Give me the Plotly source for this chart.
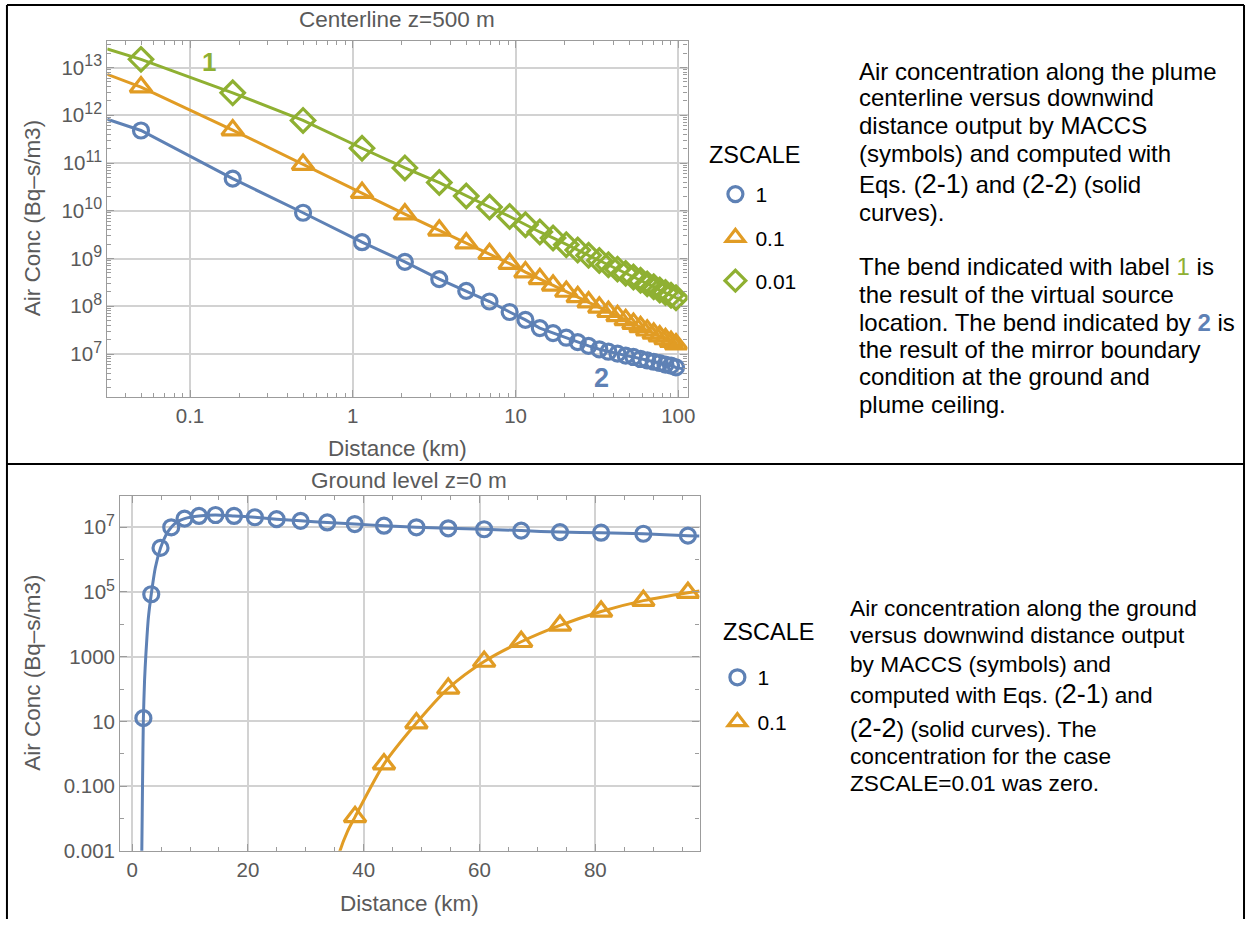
import plotly.graph_objects as go

W, H = 1254, 930
BLUE = "#5E81B5"
ORANGE = "#E19C24"
GREEN = "#8FB032"
FRAME = "#9c9c9c"
GRID = "#d2d2d2"
TICKTXT = "#5a5a5a"
FONT = "Liberation Sans, Arial, sans-serif"

# ---------------- Top chart: Centerline z=500 m ----------------
top_dist_km = [0.05, 0.183, 0.495, 1.14, 2.09, 3.40, 4.98, 6.92, 9.2, 11.5, 14.1, 17.0, 20.5, 24.1,
               28.1, 32.7, 37.2, 42.3, 47.5, 53.0, 58.6, 64.4, 70.6, 76.9, 83.4, 90.2, 96.8]
top_zscale_1 = [4.8e11, 4.7e10, 9.1e9, 2.2e9, 8.5e8, 3.7e8, 2.1e8, 1.26e8, 7.6e7, 5.2e7, 3.5e7, 2.75e7,
                2.2e7, 1.78e7, 1.48e7, 1.26e7, 1.12e7, 1.02e7, 9.3e6, 8.7e6, 7.9e6, 7.4e6, 6.9e6, 6.5e6,
                6.0e6, 5.75e6, 5.25e6]
top_zscale_01 = [3.9e12, 4.9e11, 9.3e10, 2.4e10, 8.5e9, 3.9e9, 2.1e9, 1.26e9, 7.8e8, 5.2e8, 3.76e8, 2.75e8,
                 2.04e8, 1.57e8, 1.22e8, 9.5e7, 7.7e7, 6.3e7, 5.2e7, 4.35e7, 3.7e7, 3.15e7, 2.7e7, 2.37e7,
                 2.07e7, 1.82e7, 1.62e7]
top_zscale_001 = [1.48e13, 2.95e12, 7.8e11, 2.04e11, 7.9e10, 3.9e10, 2.04e10, 1.2e10, 7.6e9, 5.1e9, 3.6e9,
                  2.7e9, 1.95e9, 1.51e9, 1.17e9, 9.1e8, 7.4e8, 6.0e8, 4.9e8, 4.1e8, 3.5e8, 2.95e8, 2.57e8,
                  2.19e8, 1.95e8, 1.70e8, 1.51e8]
# solid-curve end points (computed curves extend beyond the symbols)
top_curve_start_km = 0.031
top_curve_end_km = 107.0
top_curve_start = [8.3e11, 7.2e12, 2.45e13]   # ZSCALE 1, 0.1, 0.01
top_curve_end = [4.9e6, 1.35e7, 1.26e8]

# ---------------- Bottom chart: Ground level z=0 m ----------------
bot_dist_zs1 = [1.94, 3.3, 4.9, 6.75, 9.05, 11.55, 14.4, 17.6, 21.2, 24.95, 29.1, 33.7, 38.45, 43.5,
                49.1, 54.6, 60.8, 67.2, 73.9, 81.0, 88.3, 96.0]
bot_zs1 = [12.6, 8.5e4, 2.3e6, 1.0e7, 1.86e7, 2.24e7, 2.4e7, 2.24e7, 2.04e7, 1.78e7, 1.58e7, 1.41e7,
           1.26e7, 1.12e7, 1.0e7, 9.3e6, 8.7e6, 7.9e6, 7.1e6, 6.8e6, 6.3e6, 5.5e6]
bot_curve_dist_zs1 = [1.62, 1.67, 1.80, 1.94, 2.15, 2.35, 2.8, 3.3, 4.0, 4.9, 5.8, 6.75, 7.8, 9.05, 11.55,
                      14.4, 17.6, 21.2, 24.95, 29.1, 33.7, 38.45, 43.5, 49.1, 54.6, 60.8, 67.2, 73.9,
                      81.0, 88.3, 96.0, 98.0]
bot_curve_zs1 = [3e-4, 1e-3, 0.158, 12.6, 200, 1000, 1.58e4, 8.5e4, 5.6e5, 2.3e6, 5.6e6, 1.0e7, 1.48e7,
                 1.86e7, 2.24e7, 2.4e7, 2.24e7, 2.04e7, 1.78e7, 1.58e7, 1.41e7, 1.26e7, 1.12e7, 1.0e7,
                 9.3e6, 8.7e6, 7.9e6, 7.1e6, 6.8e6, 6.3e6, 5.5e6, 5.4e6]
bot_dist_zs01 = [38.5, 43.5, 49.1, 54.6, 60.8, 67.2, 73.9, 81.0, 88.3, 96.0]
bot_zs01 = [0.0112, 0.48, 8.9, 105, 710, 2900, 9300, 2.5e4, 5.4e4, 9.5e4]
bot_curve_dist_zs01 = [35.5, 35.9, 37.2, 38.5, 43.5, 49.1, 54.6, 60.8, 67.2, 73.9, 81.0, 88.3, 96.0, 98.0]
bot_curve_zs01 = [5e-4, 1e-3, 4e-3, 0.0112, 0.48, 8.9, 105, 710, 2900, 9300, 2.5e4, 5.4e4, 9.5e4, 1.07e5]

top_labels = ["1", "0.1", "0.01"]
bot_labels = ["1", "0.1"]


def fx(px):
    return px / W


def fy(py):
    return 1 - py / H


fig = go.Figure()

colors = [BLUE, ORANGE, GREEN]
symbols = ["circle-open", "triangle-up-open", "diamond-open"]
sizes = [15, 19, 18]
MLW = 3.2
LW = 3.0
top_series = [top_zscale_1, top_zscale_01, top_zscale_001]

for i, vals in enumerate(top_series):
    fig.add_trace(go.Scatter(
        x=[top_curve_start_km] + top_dist_km + [top_curve_end_km],
        y=[top_curve_start[i]] + vals + [top_curve_end[i]],
        mode="lines", line=dict(color=colors[i], width=LW),
        xaxis="x", yaxis="y", showlegend=False, hoverinfo="skip"))
for i, vals in enumerate(top_series):
    fig.add_trace(go.Scatter(
        x=top_dist_km, y=vals, mode="markers", name=top_labels[i],
        marker=dict(symbol=symbols[i], size=sizes[i], color=colors[i],
                    line=dict(width=MLW, color=colors[i])),
        xaxis="x", yaxis="y", legend="legend", legendgroup="t" + str(i)))

# bottom curves and symbols
fig.add_trace(go.Scatter(x=bot_curve_dist_zs1, y=bot_curve_zs1, mode="lines",
                         line=dict(color=BLUE, width=LW, shape="spline", smoothing=0.6),
                         xaxis="x2", yaxis="y2", showlegend=False, hoverinfo="skip"))
fig.add_trace(go.Scatter(x=bot_curve_dist_zs01, y=bot_curve_zs01, mode="lines",
                         line=dict(color=ORANGE, width=LW, shape="spline", smoothing=0.8),
                         xaxis="x2", yaxis="y2", showlegend=False, hoverinfo="skip"))
fig.add_trace(go.Scatter(x=bot_dist_zs1, y=bot_zs1, mode="markers", name=bot_labels[0],
                         marker=dict(symbol=symbols[0], size=sizes[0], color=BLUE,
                                     line=dict(width=MLW, color=BLUE)),
                         xaxis="x2", yaxis="y2", legend="legend2", legendgroup="b0"))
fig.add_trace(go.Scatter(x=bot_dist_zs01, y=bot_zs01, mode="markers", name=bot_labels[1],
                         marker=dict(symbol=symbols[1], size=sizes[1], color=ORANGE,
                                     line=dict(width=MLW, color=ORANGE)),
                         xaxis="x2", yaxis="y2", legend="legend2", legendgroup="b1"))

tickfont = dict(size=20.5, color=TICKTXT, family=FONT)
common = dict(ticks="inside", ticklen=7, tickwidth=1.2, tickcolor=FRAME, showline=True,
              linecolor=FRAME, linewidth=1.3, mirror="ticks", showgrid=True, gridcolor=GRID,
              gridwidth=1.5, zeroline=False, tickfont=tickfont)

top_x_minor = [m * 10.0 ** e for e in range(-2, 3) for m in range(2, 10)]
top_y_minor = [m * 10.0 ** e for e in range(6, 14) for m in range(2, 10)]


def sup(base, p):
    return base + "<sup><span style='font-size:16px'>" + p + "</span></sup>"


fig.update_layout(
    width=W, height=H, autosize=False, margin=dict(l=0, r=0, t=0, b=0, pad=0),
    paper_bgcolor="white", plot_bgcolor="white",
    font=dict(family=FONT),
    xaxis=dict(type="log", domain=[fx(108), fx(692)], range=[-1.508, 2.057], anchor="y",
               tickvals=[0.1, 1, 10, 100], ticktext=["0.1", "1", "10", "100"],
               minor=dict(tickvals=top_x_minor, ticks="inside", ticklen=4, tickcolor=FRAME, showgrid=False),
               **common),
    yaxis=dict(type="log", domain=[fy(402), fy(41)], range=[6.096, 13.565], anchor="x",
               tickvals=[1e7, 1e8, 1e9, 1e10, 1e11, 1e12, 1e13],
               ticktext=[sup("10", str(p)) for p in range(7, 14)],
               minor=dict(tickvals=top_y_minor, ticks="inside", ticklen=4, tickcolor=FRAME, showgrid=False),
               **common),
    xaxis2=dict(domain=[fx(121), fx(704)], range=[-2.06, 98.0], anchor="y2",
                tickvals=[0, 20, 40, 60, 80], ticktext=["0", "20", "40", "60", "80"],
                minor=dict(tick0=0, dtick=5, ticks="inside", ticklen=4, tickcolor=FRAME, showgrid=False),
                **common),
    yaxis2=dict(type="log", domain=[fy(861), fy(502)], range=[-3, 7.965], anchor="x2",
                tickvals=[1e-3, 1e-1, 10, 1e3, 1e5, 1e7],
                ticktext=["0.001", "0.100", "10", "1000", sup("10", "5"), sup("10", "7")],
                minor=dict(tickvals=[1e-2, 1, 100, 1e4, 1e6], ticks="inside", ticklen=4,
                           tickcolor=FRAME, showgrid=False),
                **common),
    legend=dict(x=fx(720), y=fy(176), xanchor="left", yanchor="top", bgcolor="rgba(0,0,0,0)",
                font=dict(size=21, color="black", family=FONT), tracegroupgap=13, itemsizing="trace"),
    legend2=dict(x=fx(722), y=fy(665), xanchor="left", yanchor="top", bgcolor="rgba(0,0,0,0)",
                 font=dict(size=21, color="black", family=FONT), tracegroupgap=14, itemsizing="trace"),
)

ann = []
GRAYTXT = dict(size=22.5, color=TICKTXT, family=FONT)
ann.append(dict(text="Centerline z=500 m", x=fx(400), y=fy(20), font=GRAYTXT))
ann.append(dict(text="Ground level z=0 m", x=fx(412), y=fy(486), font=GRAYTXT))
ann.append(dict(text="Distance (km)", x=fx(400), y=fy(454), font=GRAYTXT))
ann.append(dict(text="Distance (km)", x=fx(412), y=fy(914), font=GRAYTXT))
ann.append(dict(text="Air Conc (Bq\u2013s/m3)", x=fx(33), y=fy(221), textangle=-90, font=GRAYTXT))
ann.append(dict(text="Air Conc (Bq\u2013s/m3)", x=fx(33), y=fy(681), textangle=-90, font=GRAYTXT))
ann.append(dict(text="ZSCALE", x=fx(759), y=fy(157), font=dict(size=23.5, color="black", family=FONT)))
ann.append(dict(text="ZSCALE", x=fx(773), y=fy(640), font=dict(size=23.5, color="black", family=FONT)))
ann.append(dict(text="<b>1</b>", x=fx(210), y=fy(63), font=dict(size=26, color=GREEN, family=FONT)))
ann.append(dict(text="<b>2</b>", x=fx(605), y=fy(383), font=dict(size=27, color=BLUE, family=FONT)))


def big(s):
    return "<span style='font-size:27px'>" + s + "</span>"


top_text = [
    ("Air concentration along the plume", 72),
    ("centerline versus downwind", 99),
    ("distance output by MACCS", 127),
    ("(symbols) and computed with", 155),
    ("Eqs. (" + big("2-1") + ") and (" + big("2-2") + ") (solid", 186),
    ("curves).", 215),
    ("The bend indicated with label <span style='color:" + GREEN + "'>1</span> is", 270),
    ("the result of the virtual source", 298),
    ("location. The bend indicated by <span style='color:" + BLUE + "'><b>2</b></span> is", 326),
    ("the result of the mirror boundary", 354),
    ("condition at the ground and", 381),
    ("plume ceiling.", 409),
]
for t, y in top_text:
    ann.append(dict(text=t, x=fx(862), y=fy(y), xanchor="left",
                    font=dict(size=24, color="black", family=FONT)))
bot_text = [
    ("Air concentration along the ground", 615),
    ("versus downwind distance output", 643),
    ("by MACCS (symbols) and", 672),
    ("computed with Eqs. (" + big("2-1") + ") and", 702),
    ("(" + big("2-2") + ") (solid curves). The", 737),
    ("concentration for the case", 765),
    ("ZSCALE=0.01 was zero.", 792),
]
for t, y in bot_text:
    ann.append(dict(text=t, x=fx(853), y=fy(y), xanchor="left",
                    font=dict(size=22.7, color="black", family=FONT)))

for a in ann:
    a.setdefault("xref", "paper")
    a.setdefault("yref", "paper")
    a.setdefault("showarrow", False)
    a.setdefault("xanchor", "center")
    a.setdefault("yanchor", "middle")
fig.update_layout(annotations=ann)

# table borders
shapes = []
for (x0, y0, x1, y1) in [(7, 5, 1252, 5), (7, 5, 7, 930), (1252, 5, 1252, 930), (7, 469.5, 1252, 469.5)]:
    shapes.append(dict(type="line", xref="paper", yref="paper", x0=fx(x0), y0=fy(y0), x1=fx(x1), y1=fy(y1),
                       line=dict(color="black", width=2)))
fig.update_layout(shapes=shapes)

page_js = (
    "document.documentElement.style.margin='0';document.body.style.margin='0';"
    "document.documentElement.style.overflow='hidden';document.body.style.overflow='hidden';"
)
fig.write_html("out.html", post_script=page_js)
